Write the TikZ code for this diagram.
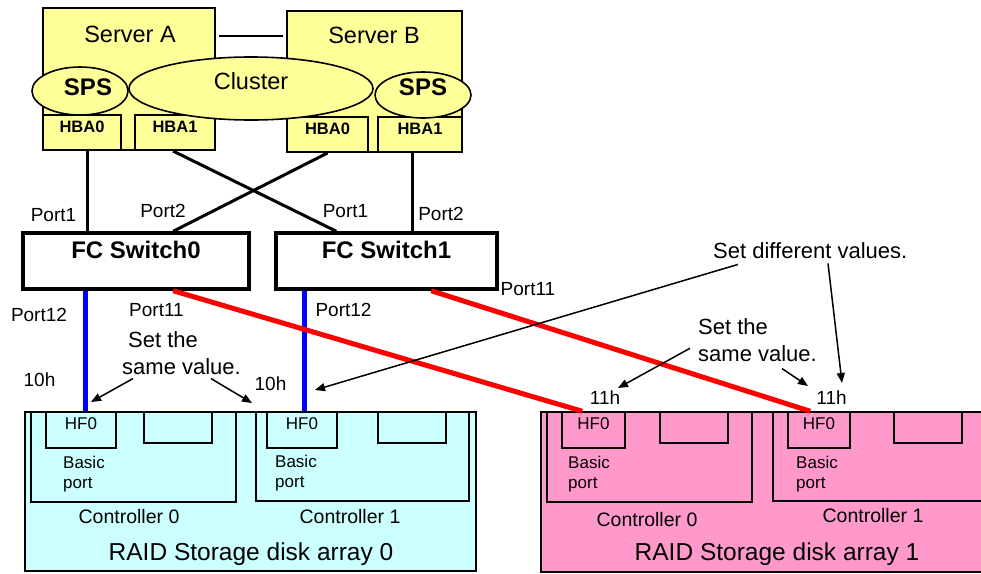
\documentclass[tikz,border=0pt]{standalone}
\usepackage{fontspec}
\setmainfont{Liberation Sans}
\usepackage{tikz}
\usetikzlibrary{arrows.meta,calc,shapes.geometric}
\usepackage{xcolor}
\definecolor{srvfill}{HTML}{FFFF99}
\definecolor{arrcyan}{HTML}{CCFFFF}
\definecolor{arrpink}{HTML}{FF99CC}
\definecolor{fcred}{HTML}{FF0000}
\definecolor{fcblue}{HTML}{0000FF}

\begin{document}
\begin{tikzpicture}[x=1pt,y=-1pt,
    box/.style={draw, line width=1.6pt, inner sep=0pt},
    server/.style={box, line width=2pt, fill=srvfill},
    blob/.style={ellipse, draw, line width=1.6pt, fill=srvfill, inner sep=0pt},
    hba/.style={server, minimum height=35pt, text height=17pt, text depth=18pt,
      font={\fontsize{16.5}{18}\selectfont\bfseries}},
    switchbox/.style={box, line width=3.5pt, fill=white, minimum height=56pt,
      text height=25pt, text depth=31pt, font={\fontsize{24}{26}\selectfont\bfseries}},
    ctrl/.style={box, line width=1.5pt},
    hfbox/.style={box, line width=1.5pt, minimum height=36pt, text height=17pt,
      text depth=19pt, font={\fontsize{17}{20}\selectfont}},
    emptyport/.style={box, line width=1.5pt, minimum height=31pt},
    bigtxt/.style={inner sep=0pt, font={\fontsize{23.5}{26}\selectfont}},
    spstxt/.style={inner sep=0pt, font={\fontsize{24}{26}\selectfont\bfseries}},
    porttxt/.style={inner sep=0pt, font={\fontsize{19}{22}\selectfont}},
    notetxt/.style={inner sep=0pt, align=left, font={\fontsize{22}{27}\selectfont}},
    smalltxt/.style={inner sep=0pt, align=left, font={\fontsize{17}{20}\selectfont}},
    ctrltxt/.style={inner sep=0pt, font={\fontsize{19.5}{22}\selectfont}},
    raidtxt/.style={inner sep=0pt, font={\fontsize{24.5}{27}\selectfont}},
    cable/.style={line width=3pt},
    fcb/.style={line width=5pt, fcblue},
    fcr/.style={line width=5pt, fcred},
    note/.style={line width=1.5pt, -{Triangle[length=10pt,width=8pt]}}]
  \clip (0,0) rectangle (981,573);

  % servers and the cluster
  \node[server, minimum width=172pt, minimum height=142pt] (srvA) at (129,79) {};
  \node[server, minimum width=175pt, minimum height=141pt] (srvB) at (374.5,81.5) {};
  \draw[line width=1.5pt] ([xshift=3pt,yshift=-29pt]srvA.north east) -- ([xshift=-3pt,yshift=-26pt]srvB.north west);
  \node[hba, minimum width=78pt] (hbaA0) at (82,132.5) {HBA0};
  \node[hba, minimum width=80pt] (hbaA1) at (175,132.5) {HBA1};
  \node[hba, minimum width=81pt] (hbaB0) at (327.5,134.5) {HBA0};
  \node[hba, minimum width=84pt] (hbaB1) at (420,134.5) {HBA1};
  \node[blob, minimum width=96pt, minimum height=48pt] (spsA) at (80,91) {};
  \node[blob, minimum width=244pt, minimum height=63pt] (clus) at (251,88.5) {};
  \node[blob, minimum width=96pt, minimum height=46pt] (spsB) at (423,95) {};
  \node[bigtxt] (nameA) at (130,34) {Server A};
  \node[bigtxt] (nameB) at (374,35) {Server B};
  \node[bigtxt] (nameC) at (251,81) {Cluster};
  \node[spstxt] (txtSpsA) at (88,87) {SPS};
  \node[spstxt] (txtSpsB) at (423,87) {SPS};

  % FC switches
  \node[switchbox, minimum width=226pt] (sw0) at (136,261) {FC Switch0};
  \node[switchbox, minimum width=221pt] (sw1) at (386.5,261) {FC Switch1};
  \draw[cable] ([xshift=5pt]hbaA0.south) -- ([xshift=5pt]hbaA0.south |- sw0.north);
  \draw[cable] ([xshift=-2pt]hbaA1.south) -- ([xshift=62pt]sw1.north west);
  \draw[cable] (hbaB0.south) -- ([xshift=152pt]sw0.north west);
  \draw[cable] ([xshift=-8pt]hbaB1.south) -- ([xshift=-8pt]hbaB1.south |- sw1.north);
  \node[porttxt] (p1a) at (53.5,215) {Port1};
  \node[porttxt] (p2a) at (163,211) {Port2};
  \node[porttxt] (p1b) at (345.5,211) {Port1};
  \node[porttxt] (p2b) at (441,214) {Port2};
  \node[porttxt] (p12a) at (39,314.5) {Port12};
  \node[porttxt] (p11a) at (156.5,310) {Port11};
  \node[porttxt] (p12b) at (343.5,310) {Port12};
  \node[porttxt] (p11b) at (528,289) {Port11};

  % disk arrays
  \node[box, line width=1.5pt, fill=arrcyan, minimum width=451pt, minimum height=159pt] (arr0) at (250.5,491.5) {};
  \node[box, line width=1.5pt, fill=arrpink, minimum width=480pt, minimum height=160pt] (arr1) at (781,492) {};
  \node[ctrl, minimum width=205pt, minimum height=90pt] (c00) at (133.5,457) {};
  \node[ctrl, minimum width=213pt, minimum height=89pt] (c01) at (362.5,456.5) {};
  \node[ctrl, minimum width=205pt, minimum height=90pt] (c10) at (649.5,457) {};
  \node[ctrl, minimum width=230pt, minimum height=89pt] (c11) at (888,456.5) {};
  \node[hfbox, minimum width=70pt] (hf00) at (81,430) {HF0};
  \node[emptyport, minimum width=68pt] (e00) at (178,427.5) {};
  \node[hfbox, minimum width=70pt] (hf01) at (302,430) {HF0};
  \node[emptyport, minimum width=68pt] (e01) at (412,427.5) {};
  \node[hfbox, minimum width=63pt] (hf10) at (593.5,430) {HF0};
  \node[emptyport, minimum width=68pt] (e10) at (694,427.5) {};
  \node[hfbox, minimum width=62pt] (hf11) at (819,430) {HF0};
  \node[emptyport, minimum width=68pt] (e11) at (928,427.5) {};
  \node[smalltxt, anchor=north west] (bp00) at (63,456) {Basic\\port};
  \node[smalltxt, anchor=north west] (bp01) at (275,455) {Basic\\port};
  \node[smalltxt, anchor=north west] (bp10) at (568,456) {Basic\\port};
  \node[smalltxt, anchor=north west] (bp11) at (796,456) {Basic\\port};
  \node[ctrltxt] (ct00) at (129,517) {Controller 0};
  \node[ctrltxt] (ct01) at (350,517) {Controller 1};
  \node[ctrltxt] (ct10) at (647,520) {Controller 0};
  \node[ctrltxt] (ct11) at (873,516) {Controller 1};
  \node[raidtxt] (raid0) at (251,554) {RAID Storage disk array 0};
  \node[raidtxt] (raid1) at (777,554) {RAID Storage disk array 1};

  % paths from the switches to the arrays
  \draw[fcb] ([xshift=4pt]hf00.north |- sw0.south) -- ([xshift=4pt]hf00.north);
  \draw[fcb] ([xshift=2pt]hf01.north |- sw1.south) -- ([xshift=2pt]hf01.north);
  \draw[fcr] ([xshift=152pt]sw0.south west) -- ([xshift=21pt]hf10.north west);
  \draw[fcr] ([xshift=157pt]sw1.south west) -- ([xshift=23pt]hf11.north west);

  % host addresses and notes
  \node[porttxt] (h10a) at (39.5,380) {10h};
  \node[porttxt] (h10b) at (270.5,384) {10h};
  \node[porttxt] (h11a) at (605,398) {11h};
  \node[porttxt] (h11b) at (831.5,398) {11h};
  \node[notetxt, anchor=north west] (same0) at (122,331) {\hspace*{6pt}Set the\\same value.};
  \node[notetxt, anchor=north west] (same1) at (698,318) {Set the\\same value.};
  \node[notetxt, anchor=base west] (diff) at (713,258) {Set different values.};
  \coordinate (tip10a) at (91,402);
  \coordinate (tip10b) at (252,403);
  \coordinate (tip10c) at (315,390);
  \coordinate (tip11a) at (618,388);
  \coordinate (tip11b) at (808,386);
  \coordinate (tip11c) at (842,383);
  \draw[note] ([xshift=11pt,yshift=-4pt]same0.south west) -- (tip10a);
  \draw[note] ([xshift=89pt,yshift=-4pt]same0.south west) -- (tip10b);
  \draw[note] ([xshift=-8pt,yshift=-8.5pt]same1.west) -- (tip11a);
  \draw[note] ([xshift=84pt,yshift=-7pt]same1.south west) -- (tip11b);
  \draw[note] ([xshift=25pt,yshift=-6pt]diff.south west) -- (tip10c);
  \draw[note] ([xshift=115pt,yshift=-5pt]diff.south west) -- (tip11c);
\end{tikzpicture}
\end{document}
